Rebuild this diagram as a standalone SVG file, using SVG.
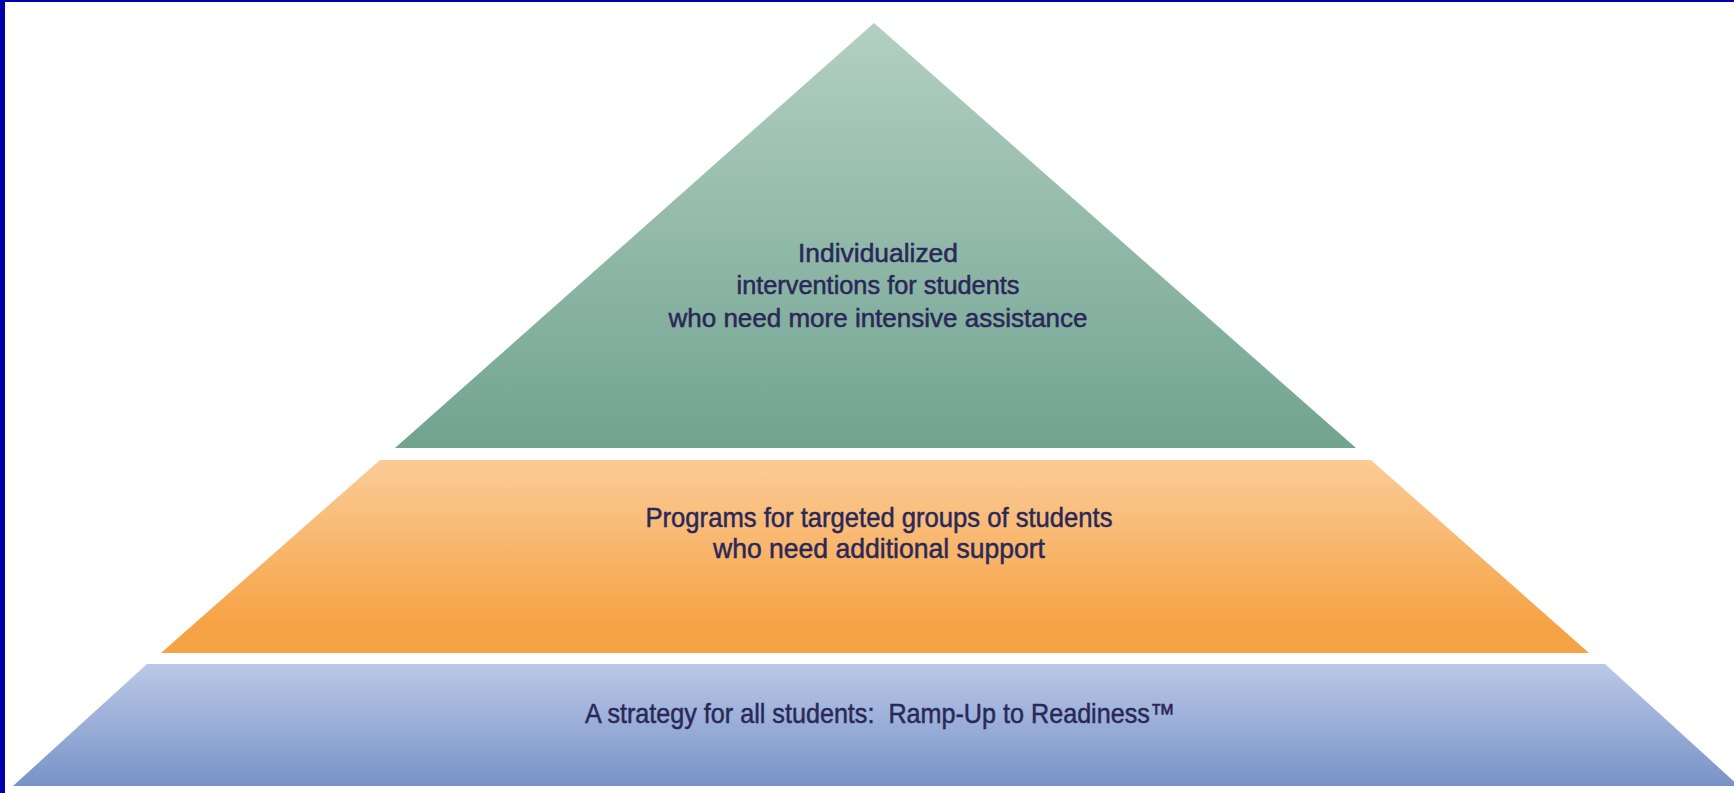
<svg xmlns="http://www.w3.org/2000/svg" width="1734" height="793" viewBox="0 0 1734 793">
<defs>
<linearGradient id="gGreen" x1="0" y1="0" x2="0" y2="1">
<stop offset="0" stop-color="#b3cfc4"/>
<stop offset="1" stop-color="#71a390"/>
</linearGradient>
<linearGradient id="gOrange" x1="0" y1="0" x2="0" y2="1">
<stop offset="0" stop-color="#fbcc98"/>
<stop offset="0.85" stop-color="#f6a345"/>
<stop offset="1" stop-color="#f6a345"/>
</linearGradient>
<linearGradient id="gBlue" x1="0" y1="0" x2="0" y2="1">
<stop offset="0" stop-color="#bbc8e7"/>
<stop offset="1" stop-color="#7893c7"/>
</linearGradient>
</defs>
<style>
.t{font-family:"Liberation Sans",Arial,sans-serif;fill:#2a2858;stroke:#2a2858;stroke-width:0.5;text-anchor:middle;white-space:pre}
.s25{font-size:25px}
.s28{font-size:28px}
</style>
<rect x="0" y="0" width="1734" height="793" fill="#ffffff"/>
<rect x="0" y="0" width="1734" height="2" fill="#0000aa"/>
<rect x="0" y="0" width="5" height="793" fill="#0000aa"/>
<g id="tier-top">
<polygon points="874,23 1356,448 395,448" fill="url(#gGreen)"/>
<text class="t s25" x="878" y="262" textLength="160" lengthAdjust="spacingAndGlyphs">Individualized</text>
<text class="t s25" x="878" y="294" textLength="283" lengthAdjust="spacingAndGlyphs">interventions for students</text>
<text class="t s25" x="878" y="327" textLength="419" lengthAdjust="spacingAndGlyphs">who need more intensive assistance</text>
</g>
<g id="tier-middle">
<polygon points="380,460 1371,460 1589,653 161,653" fill="url(#gOrange)"/>
<text class="t s28" x="879" y="527" textLength="467" lengthAdjust="spacingAndGlyphs">Programs for targeted groups of students</text>
<text class="t s28" x="879" y="558" textLength="332" lengthAdjust="spacingAndGlyphs">who need additional support</text>
</g>
<g id="tier-bottom">
<polygon points="147,664 1605,664 1739,786 13,786" fill="url(#gBlue)"/>
<text class="t s28" x="880" y="723" textLength="590" lengthAdjust="spacingAndGlyphs">A strategy for all students:  Ramp-Up to Readiness™</text>
</g>
<g id="connectors"/>
</svg>
